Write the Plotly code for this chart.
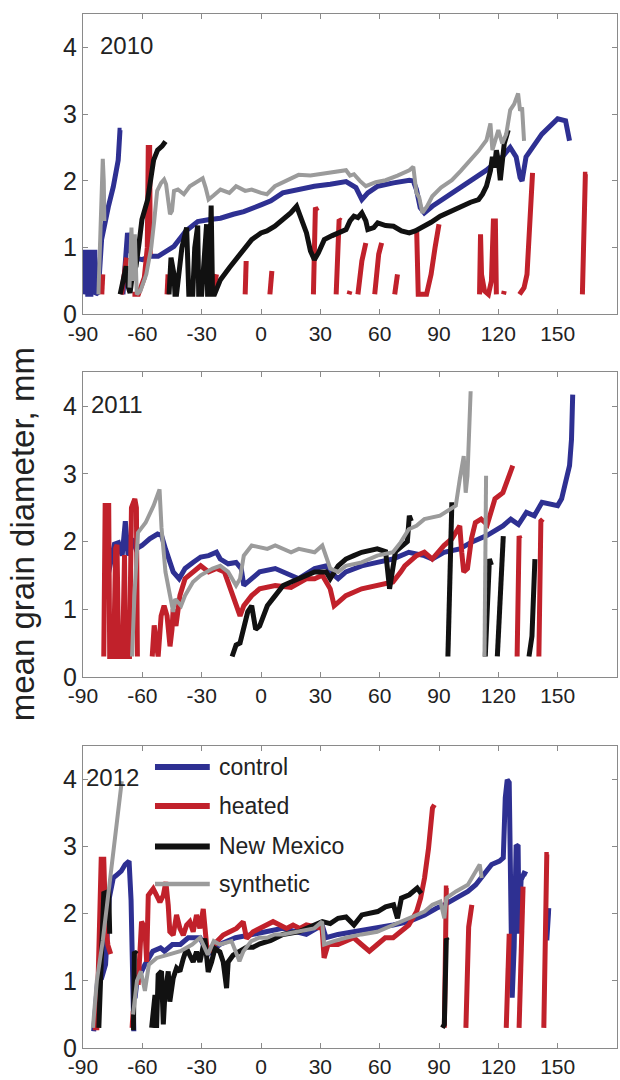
import plotly.graph_objects as go

N = None

# ---------------- 2010 ----------------
c10_x = [-90, -89.6, -88, -87.6, -86, -85.6, -84, -83.6, -82.3, -80.6, -77.2, -74.7, -72.2, -71.3, -70.5, N,
         -69.8, -67.5, -66, -64.5, -60, -56, -52, -48, -44, -38, -32, -26, -20.5, -14, -8.7, 0, 5, 11, 19, 27,
         35, 43, 48, 51, 54, 59, 67, 75, 77, 78.6, 80.5, 82.6, 86.6, 96.5, 106, 114, 122, 126, 129, 131, 132,
         134, 142, 150, 154, 156]
c10_y = [0.3, 0.93, 0.93, 0.3, 0.3, 0.93, 0.93, 0.3, 0.33, 1.12, 1.61, 1.91, 2.31, 2.76, 2.76, N,
         0.3, 1.22, 0.95, 0.85, 0.82, 0.87, 0.87, 0.95, 1.02, 1.25, 1.39, 1.42, 1.44, 1.5, 1.54, 1.64, 1.7, 1.82,
         1.87, 1.92, 1.95, 1.99, 1.9, 1.72, 1.82, 1.92, 1.97, 2.01, 2.0, 1.87, 1.6, 1.52, 1.62, 1.82, 1.99, 2.16,
         2.36, 2.5, 2.36, 2.05, 2.0, 2.36, 2.7, 2.93, 2.9, 2.6]

h10_x = [-80.5, -80, N, -70.5, -68, N, -65, -62, -59, -57.5, -57, -56.3, -56, N, -47.5, -47, N,
         -24.5, -23.5, -22.5, N, -8, -7.5, N, 4.5, 5.5, N, 26.5, 27.5, 28.5, N, 38, 39.5, 40.5, N,
         44.5, 45, N, 49, 51, 53, N, 57.5, 59.5, 61, N, 67.6, 69, N,
         78.7, 79.5, 83.7, 86, 88, 90, N, 110.5, 111, 111.5, 113, 115, 116.5, 117.5, 118.5, 119, N,
         122.6, 123, N, 130.7, 133, 134.5, 136, 137, 137.3, N, 162.5, 163, 164, 165]
h10_y = [0.3, 0.6, N, 0.3, 0.85, N, 0.3, 0.3, 0.55, 1.0, 2.5, 2.5, 0.9, N, 0.3, 0.6, N,
         0.3, 0.45, 0.6, N, 0.3, 0.8, N, 0.3, 0.65, N, 0.3, 1.6, 1.55, N, 0.3, 1.42, 1.4, N,
         0.3, 0.35, N, 0.3, 0.8, 1.07, N, 0.3, 0.9, 1.07, N, 0.3, 0.6, N,
         1.27, 0.3, 0.3, 0.6, 1.0, 1.35, N, 0.3, 1.2, 0.6, 0.35, 0.3, 0.5, 1.4, 1.4, 0.3, N,
         0.3, 0.35, N, 0.3, 0.4, 0.6, 1.5, 2.12, 2.12, N, 0.3, 1.3, 2.1, 2.1]

n10_x = [-71.2, -69.5, -68.2, -67, -66.2, -65, -63.2, -61.5, -60.2, -57.3, -55.5, -54.3, -52.3, -50, -48.3, N,
         -46.5, -45.5, -44, -43.5, -42.7, -40, -37.6, -36.5, -34.5, -33.5, -32, -31.5, -30, -27.5, -27, -26.2,
         -25.2, -24.5, -23.5, -20.5, -16, -12.6, -8, -4.7, 0, 3, 7, 11, 15, 18, 20, 23, 25, 27, 29, 32, 36, 39,
         43, 45, 47, 49, 51, 53, 54, 57, 59, 63, 67, 71, 75, 78, 82.6, 86, 90.6, 96, 102, 106, 110, 112, 114,
         116, 117, 118, 119, 120, 121, 122, 123, 125]
n10_y = [0.3, 0.6, 0.72, 0.4, 0.32, 0.6, 0.72, 1.1, 1.42, 1.72, 2.1, 2.31, 2.46, 2.52, 2.59, N,
         0.3, 0.85, 0.6, 0.3, 0.3, 1.0, 1.3, 0.3, 0.3, 1.0, 1.33, 0.3, 0.3, 1.35, 0.3, 0.3,
         1.63, 0.3, 0.3, 0.52, 0.7, 0.82, 1.0, 1.12, 1.22, 1.25, 1.32, 1.42, 1.52, 1.62, 1.45, 1.22, 0.95, 0.82,
         0.92, 1.12, 1.18, 1.22, 1.27, 1.4, 1.47, 1.45, 1.52, 1.4, 1.27, 1.3, 1.37, 1.33, 1.32, 1.25, 1.22, 1.25,
         1.32, 1.38, 1.47, 1.55, 1.62, 1.68, 1.72, 1.8, 1.92, 2.15, 2.36, 2.2, 2.46, 2.3, 2.01, 2.3, 2.56, 2.76]

s10_x = [-82.2, -81, -80, -79.5, -79.2, N,
         -66.5, -65.5, -64.8, -63.8, -62.8, -61, -58, -55.5, -54, -52.5, -50.5, -49, -48, -47, -46, -45, -44,
         -42, -39, -36, -33, -29.5, -28, -26.5, -24, -20.5, -16, -12.6, -8, -4.7, 0, 3, 7, 13, 19, 25, 31, 37,
         43, 45, 47, 50, 53, 58, 63, 69, 75, 77, 78.6, 80, 81.6, 84, 86.6, 91, 96.5, 101, 106, 110, 114, 116,
         117, 120, 122, 124, 126, 128, 130, 131, 132, 133]
s10_y = [0.3, 1.2, 2.33, 2.0, 1.4, N,
         0.4, 1.3, 0.5, 1.2, 0.3, 0.35, 0.6, 1.0, 1.4, 1.85, 1.97, 2.02, 1.95, 1.75, 1.5, 1.55, 1.85,
         1.87, 1.8, 1.92, 1.97, 2.04, 1.9, 1.72, 1.78, 1.87, 1.82, 1.92, 1.85, 1.87, 1.82, 1.8, 1.92, 2.0, 2.09,
         2.08, 2.11, 2.13, 2.16, 2.08, 2.1, 2.0, 1.92, 1.98, 2.01, 2.08, 2.16, 2.21, 1.82, 1.75, 1.52, 1.62, 1.77,
         1.9, 2.01, 2.15, 2.31, 2.45, 2.61, 2.86, 2.46, 2.76, 2.56, 2.7, 3.06, 3.15, 3.31, 3.05, 3.1, 2.6]

# ---------------- 2011 ----------------
c11_x = [-79.1, -76.5, -74.1, -72.1, -70.2, -68.6, -67.2, -65.2, -63.2, -60.2, -56.3, -52.3, -50.3, -48.3, -46,
         -44.4, -41.4, -38.4, -34.4, -30.5, -26.5, -22.5, -20.6, -16.6, -12.6, -10, -8.7, -4.7, -0.7, 7.2, 15.2,
         19.1, 27.1, 33, 35, 39, 42.9, 50.9, 58.8, 66.7, 74.7, 82.6, 86.6, 92.5, 100.5, 106.4, 114.4, 122.3,
         126.3, 130.2, 134.2, 138.2, 142.1, 146.1, 150, 152, 154, 156, 157, 157.6]
c11_y = [1.25, 1.6, 1.96, 1.98, 1.79, 2.3, 1.79, 2.04, 1.89, 1.94, 2.04, 2.11, 2.09, 1.89, 1.65,
         1.55, 1.45, 1.6, 1.69, 1.77, 1.79, 1.84, 1.74, 1.67, 1.69, 1.6, 1.35, 1.45, 1.55, 1.6, 1.5,
         1.45, 1.6, 1.64, 1.55, 1.45, 1.55, 1.64, 1.69, 1.74, 1.84, 1.79, 1.74, 1.84, 1.89, 1.99, 2.09, 2.23,
         2.33, 2.25, 2.43, 2.38, 2.58, 2.55, 2.53, 2.63, 2.87, 3.12, 3.51, 4.17]

h11_x = [-79.5, -78.8, -77, -76.5, -74.5, -73.5, -72.8, -72, -70, -69, -68.5, -66.5, -65.5, -63.8, -63, -62.5, N,
         -55, -54, -53, -52, -50.5, -49, -47.5, -46, -45, -44.4, -43, -42, -41, -38.4, -34.4, -30.5, -26.5,
         -22.5, -18.5, -16.6, -12.6, -10.6, -8.7, -4.7, -0.7, 7.2, 15.2, 23.1, 27.1, 31, 35, 37, 39, 42.9, 50.9,
         58.8, 66.7, 70.7, 72.7, 78.6, 82.6, 86.6, 92.5, 96.5, 98.5, 100.5, 101.5, 102.5, 104.4, 106.4, 108.4,
         111.3, 114.4, 118.3, 122.3, 126.3, 127.3, N, 129.5, 130.5, 131, N, 140.5, 141.5, 142.5]
h11_y = [0.3, 2.53, 2.53, 0.3, 0.3, 1.9, 1.95, 0.3, 0.3, 1.8, 0.3, 0.3, 2.5, 2.63, 2.5, 0.3, N,
         0.3, 0.76, 0.5, 0.3, 0.9, 1.05, 0.9, 0.45, 0.7, 1.0, 0.75, 1.05, 1.2, 1.45, 1.55, 1.64, 1.55,
         1.6, 1.55, 1.4, 1.1, 0.9, 1.05, 1.2, 1.3, 1.35, 1.32, 1.45, 1.45, 1.5, 1.3, 1.05, 1.1, 1.2, 1.3,
         1.35, 1.4, 1.55, 1.64, 1.79, 1.84, 1.74, 1.94, 2.04, 2.14, 2.23, 1.84, 1.55, 1.6, 2.04, 2.28,
         2.33, 2.25, 2.63, 2.72, 3.02, 3.12, N, 0.3, 2.08, 2.04, N, 0.3, 2.3, 2.33]

n11_x = [-14.6, -12.6, -10.6, -8.7, -6.7, -4.7, -2.7, -0.7, 3.2, 7.2, 11.2, 15.2, 19.1, 23.1, 27.1, 33, 35, 39,
         42.9, 46.9, 50.9, 58.8, 63, 65, 66.7, 68, 72, 74, 75, 76, N, 94.5, 95.5, 96.5, N,
         113.4, 114.5, 115.5, 116.5, N, 119.5, 121, 122.5, N, 135.5, 137, 138.5]
n11_y = [0.3, 0.47, 0.5, 0.7, 0.96, 1.05, 0.7, 0.75, 1.05, 1.2, 1.35, 1.4, 1.45, 1.5, 1.55, 1.55, 1.45, 1.64,
         1.74, 1.79, 1.84, 1.89, 1.85, 1.3, 1.6, 1.85, 1.95, 2.0, 2.38, 2.3, N, 0.3, 1.5, 2.58, N,
         0.3, 1.2, 1.74, 1.65, N, 0.3, 1.2, 2.08, N, 0.3, 0.6, 1.74]

s11_x = [-65.2, -64, -62.2, -58.3, -54.3, -51.3, -50.3, -48.3, -46, -44.4, -43.4, -40.4, -38.4, -34.4, -30.5,
         -24.5, -20.6, -16.6, -12.6, -10.6, -8.7, -4.7, 3.2, 7.2, 15.2, 19.1, 27.1, 31, 35, 39, 42.9, 50.9, 58.8,
         66.7, 70.7, 74.7, 78.6, 82.6, 90.5, 98.5, 100.5, 102.5, 103.5, 104.4, 106, N, 113, 113.8]
s11_y = [0.3, 1.2, 2.13, 2.28, 2.53, 2.77, 2.2, 1.55, 1.2, 0.96, 1.15, 1.05, 1.2, 1.4, 1.5,
         1.6, 1.64, 1.55, 1.35, 1.45, 1.79, 1.94, 1.89, 1.94, 1.84, 1.89, 1.84, 1.94, 1.6, 1.55, 1.64, 1.69, 1.79,
         1.84, 1.99, 2.18, 2.23, 2.33, 2.38, 2.53, 2.92, 3.26, 2.72, 2.97, 4.22, N, 0.3, 2.97]

# ---------------- 2012 ----------------
c12_x = [-84.6, -82.6, -80.6, -78.6, -76.7, -74.7, -72.7, -70.7, -68.7, -66.7, -65.7, -65.1, -64.3, N,
         -63.7, -62.7, -58.7, -54.7, -50.8, -48.8, -44.8, -40.8, -36.8, -30.8, -26.9, -20.9, -12.9, -4.9, 3, 11,
         22.9, 30.9, 32.9, 38.9, 46.9, 58.8, 66.8, 74.7, 82.7, 88.7, 92.7, 98.6, 104.6, 108.6, 112.6, 116.6,
         120.6, 122.5, 123.5, 124.5, 125.5, 126, 127, 128, 129, 130, 130.5, 131.5, 133, 134.5, N, 144.5, 145.5]
c12_y = [0.25, 1.0, 1.04, 1.24, 2.23, 2.53, 2.58, 2.63, 2.73, 2.78, 2.2, 0.74, 0.25, N,
         0.74, 1.0, 1.24, 1.44, 1.49, 1.44, 1.54, 1.54, 1.64, 1.64, 1.39, 1.54, 1.64, 1.69, 1.73, 1.78,
         1.69, 1.83, 1.64, 1.69, 1.73, 1.78, 1.83, 1.88, 1.98, 2.08, 2.13, 2.23, 2.33, 2.43, 2.58, 2.73,
         2.78, 2.83, 3.72, 3.99, 3.95, 2.5, 0.75, 1.5, 3.02, 3.0, 1.7, 2.5, 2.6, 2.58, N, 1.6, 2.08]

h12_x = [-85, -83, -81.5, -80.8, -79.5, -78.5, -77.4, -76, N, -65.2, -64.6, N,
         -62.1, -60.4, -58.7, -57.8, -57, -54.5, -52.8, -51.1, -49.4, -48.1, -46.9, -46.1, -44.4, -42.7, -41,
         -39.3, -37.6, -36, -34.3, -32.6, -30.9, -29.2, -27.5, -25.9, -22.5, -19.1, -15.8, -12.4, -9, -7.3, -4,
         -0.6, 2.8, 6.1, 9.5, 12.9, 16.2, 19.6, 22.9, 30.9, 31.9, 33.9, 38.9, 42.9, 46.9, 50.8, 54.8, 58.8, 62.8,
         66.8, 70.8, 74.7, 78.7, 80.7, 82.7, 84.7, 86.7, 87.7, N, 92.7, 93.7, 94.7, N, 103.6, 105, 106.6, N,
         124, 125.5, N, 130.5, 132.5, N, 143, 144.5, 145.5]
h12_y = [0.3, 0.3, 2.0, 2.81, 2.81, 1.8, 1.53, 1.4, N, 0.3, 0.55, N,
         0.94, 1.88, 1.78, 1.28, 2.27, 2.37, 2.27, 2.17, 2.27, 2.47, 2.12, 1.73, 1.68, 1.98, 1.78,
         1.68, 1.83, 1.88, 1.73, 1.98, 1.78, 2.07, 1.53, 1.43, 1.58, 1.68, 1.73, 1.78, 1.88, 1.63, 1.73,
         1.78, 1.83, 1.88, 1.83, 1.78, 1.83, 1.78, 1.83, 1.78, 1.34, 1.54, 1.54, 1.59, 1.64, 1.54, 1.44, 1.54, 1.64,
         1.64, 1.73, 1.83, 2.03, 2.23, 2.53, 2.97, 3.57, 3.62, N, 0.3, 2.38, 2.38, N, 0.3, 1.8, 2.13, N,
         0.3, 1.7, N, 0.3, 2.4, N, 0.3, 2.88, 2.88]

n12_x = [-82, -80.5, -79.5, -77, -76.5, N, -65.7, -64.5, -64, -62.7, N,
         -55.3, -53.6, -52.8, -52, -50.3, -49.4, -48.6, -46.9, -46.1, -44.4, -42.7, -41, -39.3, -37.6, -36, -34.3,
         -32.6, -30.9, -28.4, -26.7, -25, -23.3, -20.8, -19.1, -17.4, -16.6, -14.1, -10.7, -7.3, -4, -0.6, 5, 11,
         19, 27, 31, 35, 39, 43, 47, 51, 59, 63, 67, 69, 71, 75, 79, 81, N, 91.7, 92.7, 93.7, 94.2]
n12_y = [0.3, 1.5, 2.3, 2.33, 1.7, N, 0.3, 0.3, 1.43, 1.4, N,
         0.3, 0.79, 0.3, 1.09, 1.14, 0.35, 0.79, 1.14, 0.69, 1.04, 1.19, 1.14, 1.33, 1.48, 1.38, 1.28,
         1.43, 1.28, 1.63, 1.13, 1.28, 1.48, 1.43, 1.28, 0.89, 1.28, 1.38, 1.43, 1.5, 1.5, 1.55, 1.6, 1.69,
         1.73, 1.83, 1.88, 1.85, 1.93, 1.95, 1.83, 1.98, 2.03, 2.1, 2.13, 1.93, 2.23, 2.28, 2.38, 2.3, N,
         0.3, 0.35, 1.63, 1.6]

s12_x = [-85, -83, -80, -76, -73, -70.4, N,
         -64.7, -62.7, -60.7, -58.7, -56.7, -52.7, -46.8, -40.8, -34.8, -30.8, -26.9, -23.9, -20.9, -14.9, -10.9,
         -8.9, -4.9, -1, 3, 7, 11, 19, 26.9, 30.9, 31.9, 36.9, 42.9, 50.8, 58.8, 66.8, 74.7, 82.7, 86.7, 90.7,
         92.7, 93.7, 98.6, 104.6, 108.6, 110.6, 111.6]
s12_y = [0.3, 1.0, 1.6, 2.6, 3.3, 3.97, N,
         0.5, 1.0, 1.14, 0.85, 1.24, 1.34, 1.39, 1.44, 1.54, 1.64, 1.39, 1.59, 1.54, 1.59, 1.29,
         1.44, 1.59, 1.64, 1.64, 1.69, 1.69, 1.73, 1.78, 1.88, 1.54, 1.59, 1.64, 1.69, 1.73, 1.83, 1.93, 2.03, 2.13,
         2.18, 1.93, 2.23, 2.33, 2.43, 2.63, 2.73, 2.53]

years = ["2010", "2011", "2012"]
series_names = ["control", "heated", "New Mexico", "synthetic"]
x_ticks = [-90, -60, -30, 0, 30, 60, 90, 120, 150]
y_ticks = [0, 1, 2, 3, 4]

panels = [
    [(c10_x, c10_y), (h10_x, h10_y), (n10_x, n10_y), (s10_x, s10_y)],
    [(c11_x, c11_y), (h11_x, h11_y), (n11_x, n11_y), (s11_x, s11_y)],
    [(c12_x, c12_y), (h12_x, h12_y), (n12_x, n12_y), (s12_x, s12_y)],
]

colors = ["#2e3092", "#c1212b", "#111111", "#9b9b9b"]
widths = [5, 5, 5, 4]

FONT = "Liberation Sans, Arial, sans-serif"
fig = go.Figure()

for p, series in enumerate(panels):
    suffix = "" if p == 0 else str(p + 1)
    for k, (xs, ys) in enumerate(series):
        fig.add_trace(go.Scatter(
            x=xs, y=ys, mode="lines", name=series_names[k], showlegend=False,
            line=dict(color=colors[k], width=widths[k]),
            xaxis="x" + suffix, yaxis="y" + suffix, connectgaps=False,
        ))

domains = [[0.7095, 1.0], [0.359, 0.6535], [0.0, 0.2925]]
axis_common = dict(
    showgrid=False, zeroline=False, showline=True, linecolor="#8a8a8a", linewidth=1.2,
    mirror="ticks", ticks="inside", ticklen=5, tickcolor="#8a8a8a", tickwidth=1.2,
)
layout = dict(
    width=620, height=1080, paper_bgcolor="white", plot_bgcolor="white",
    margin=dict(l=83, r=2, t=14, b=30),
    font=dict(family=FONT, color="#222222"),
    showlegend=False,
)
for p in range(3):
    suffix = "" if p == 0 else str(p + 1)
    layout["xaxis" + suffix] = dict(
        axis_common, range=[-90, 180], tickvals=x_ticks, ticktext=[str(v) for v in x_ticks],
        tickfont=dict(size=21, family=FONT, color="#222222"), anchor="y" + suffix, domain=[0, 1],
    )
    layout["yaxis" + suffix] = dict(
        axis_common, range=[0, 4.5], tickvals=y_ticks, ticktext=[str(v) for v in y_ticks],
        tickfont=dict(size=25, family=FONT, color="#222222"), anchor="x" + suffix, domain=domains[p],
    )
fig.update_layout(**layout)

# year tags, one per panel
year_pos_x = [-82.5, -87, -89.3]
annotations = []
for p, yr in enumerate(years):
    suffix = "" if p == 0 else str(p + 1)
    annotations.append(dict(
        text=yr, x=year_pos_x[p], y=4.03, xref="x" + suffix, yref="y" + suffix, xanchor="left",
        yanchor="middle", showarrow=False, font=dict(size=24, family=FONT, color="#222222"),
    ))

# legend drawn inside the 2012 panel
legend_y = [4.18, 3.6, 3.0, 2.44]
shapes = []
for k, name in enumerate(series_names):
    shapes.append(dict(
        type="line", xref="x3", yref="y3", x0=-53.6, x1=-25.9, y0=legend_y[k], y1=legend_y[k],
        line=dict(color=colors[k], width=6 if k < 3 else 4.5),
    ))
    annotations.append(dict(
        text=name, x=-22.5, y=legend_y[k], xref="x3", yref="y3", xanchor="left", yanchor="middle",
        showarrow=False, font=dict(size=23, family=FONT, color="#222222"),
    ))

annotations.append(dict(
    text="mean grain diameter, mm", x=-0.114, y=0.497, xref="paper", yref="paper",
    textangle=-90, showarrow=False, xanchor="center", yanchor="middle",
    font=dict(size=33, family=FONT, color="#222222"),
))
fig.update_layout(annotations=annotations, shapes=shapes)

fig.write_html("out.html")
